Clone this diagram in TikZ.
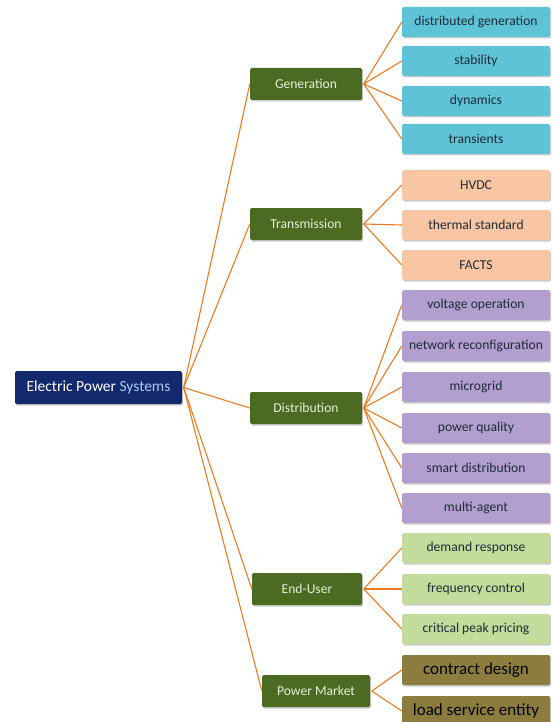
\documentclass[tikz,border=0pt]{standalone}
\usepackage{fontspec}
\setmainfont{Carlito}
\usetikzlibrary{shadows}
\definecolor{navy}{HTML}{12296E}
\definecolor{skyl}{HTML}{A9CBF2}
\definecolor{midg}{HTML}{4B6B22}
\definecolor{midt}{HTML}{E6EED8}
\definecolor{cyanl}{HTML}{5EC3D6}
\definecolor{peach}{HTML}{F8C6A2}
\definecolor{purp}{HTML}{B39ED0}
\definecolor{lgreen}{HTML}{C3DB9B}
\definecolor{olive}{HTML}{8C7C3E}
\definecolor{conn}{HTML}{EC7A22}
\definecolor{leaft}{HTML}{1E2B38}
\begin{document}
\begin{tikzpicture}[x=1pt,y=-1pt,
  box/.style={rectangle, rounded corners=1.5pt, inner sep=0pt,
    drop shadow={shadow xshift=1pt, shadow yshift=-1.5pt, fill=black!45, opacity=0.45}},
  rootbox/.style={box, fill=navy, text=white, minimum width=167pt, minimum height=33pt, font=\fontsize{15.5}{17}\selectfont},
  midbox/.style={box, fill=midg, text=midt, minimum width=112pt, minimum height=32pt, font=\fontsize{13.6}{15}\selectfont},
  leafbox/.style={box, text=leaft, minimum width=148pt, minimum height=30pt, font=\fontsize{13.6}{15}\selectfont},
  cyanbox/.style={leafbox, fill=cyanl},
  peachbox/.style={leafbox, fill=peach},
  purpbox/.style={leafbox, fill=purp},
  lgbox/.style={leafbox, fill=lgreen},
  olbox/.style={leafbox, fill=olive, text=black, font=\fontsize{17}{18}\selectfont},
  link/.style={draw=conn, line width=1.1pt}
]
\useasboundingbox (0,0) rectangle (552,722);

\node[rootbox] (root) at (98.5,387.5) {Electric Power \textcolor{skyl}{Systems}};

\node[midbox] (gen) at (306,84) {Generation};
\node[midbox] (tra) at (306,224) {Transmission};
\node[midbox] (dis) at (306,408) {Distribution};
\node[midbox, minimum width=110pt] (end) at (307,589) {End-User};
\node[midbox, minimum width=108pt] (mkt) at (316,691) {Power Market};

\node[cyanbox] (l1) at (476,22) {distributed generation};
\node[cyanbox] (l2) at (476,61) {stability};
\node[cyanbox] (l3) at (476,101) {dynamics};
\node[cyanbox] (l4) at (476,139) {transients};

\node[peachbox] (l5) at (476,185) {HVDC};
\node[peachbox] (l6) at (476,225) {thermal standard};
\node[peachbox] (l7) at (476,265) {FACTS};

\node[purpbox] (l8) at (476,305) {voltage operation};
\node[purpbox] (l9) at (476,346) {network reconfiguration};
\node[purpbox] (l10) at (476,387) {microgrid};
\node[purpbox] (l11) at (476,428) {power quality};
\node[purpbox] (l12) at (476,468) {smart distribution};
\node[purpbox] (l13) at (476,508) {multi-agent};

\node[lgbox] (l14) at (476,548) {demand response};
\node[lgbox] (l15) at (476,589) {frequency control};
\node[lgbox] (l16) at (476,629) {critical peak pricing};

\node[olbox] (l17) at (476,670) {contract design};
\node[olbox] (l18) at (476,711) {load service entity};

\foreach \m in {gen,tra,dis,end,mkt}
  \draw[link] ([xshift=1.5pt]root.east) -- (\m.west);

\foreach \l in {l1,l2,l3,l4} \draw[link] ([xshift=1.5pt]gen.east) -- (\l.west);
\foreach \l in {l5,l6,l7} \draw[link] ([xshift=1.5pt]tra.east) -- (\l.west);
\foreach \l in {l8,l9,l10,l11,l12,l13} \draw[link] ([xshift=1.5pt]dis.east) -- (\l.west);
\foreach \l in {l14,l15,l16} \draw[link] ([xshift=1.5pt]end.east) -- (\l.west);
\foreach \l in {l17,l18} \draw[link] ([xshift=1.5pt]mkt.east) -- (\l.west);
\end{tikzpicture}
\end{document}
